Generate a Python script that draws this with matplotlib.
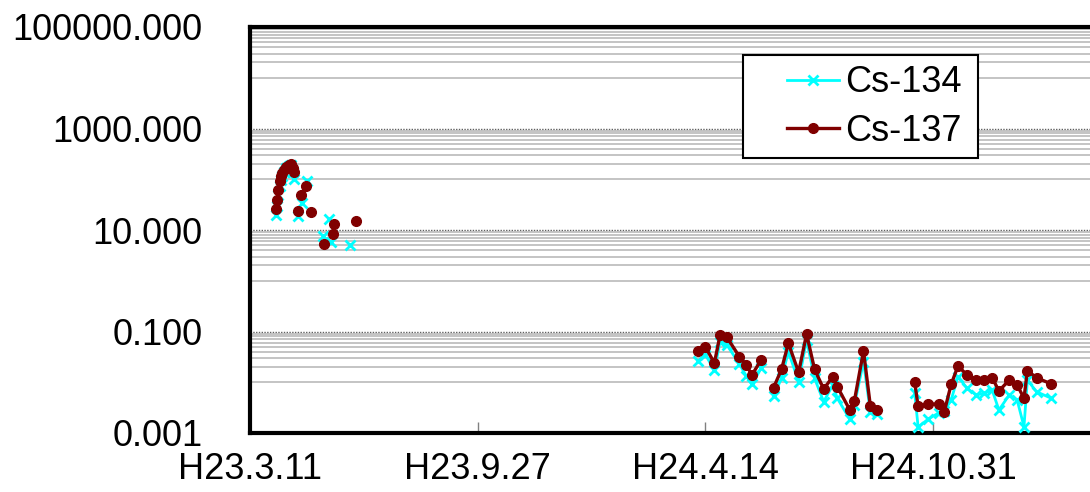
import numpy as np
import pandas as pd
import matplotlib
matplotlib.use("Agg")
import matplotlib.pyplot as plt
from matplotlib.patches import Rectangle

nan = np.nan

# Cs-134 (date, value) - nan entries break the line
dates_134 = [
    "2011-04-03", "2011-04-04", "2011-04-05", "2011-04-06", "2011-04-07", "2011-04-08",
    "2011-04-10", "2011-04-12", "2011-04-14", "2011-04-16", "2011-04-18", "2011-04-19",
    "2011-04-20", "2011-04-22", "2011-04-23", "2011-04-26", "2011-04-27", "2011-04-30",
    "2011-05-01", "2011-05-14", "2011-05-15", "2011-05-19", "2011-05-20", "2011-05-21",
    "2011-05-22", "2011-06-07", "2011-06-08",
    "2012-04-08", "2012-04-14", "2012-04-22", "2012-04-27", "2012-05-03", "2012-05-14",
    "2012-05-20", "2012-05-25", "2012-06-02", "2012-06-07", "2012-06-13", "2012-06-20",
    "2012-06-26", "2012-07-05", "2012-07-12", "2012-07-19", "2012-07-27", "2012-08-04",
    "2012-08-08", "2012-08-19", "2012-08-23", "2012-08-31", "2012-09-06", "2012-09-12",
    "2012-09-20",
    "2012-10-15", "2012-10-18", "2012-10-27", "2012-11-05", "2012-11-10", "2012-11-16",
    "2012-11-22", "2012-11-30", "2012-12-08", "2012-12-15", "2012-12-22", "2012-12-28",
    "2013-01-06", "2013-01-13", "2013-01-19", "2013-01-22", "2013-01-30", "2013-02-12",
]
cs134 = [
    19.8, 30, 48, 75, 98, 115,
    140, 165, 185, 190, 140, 101,
    nan, 18.6, nan, 33.6, nan, 90.3,
    nan, 7.45, nan, 16.7, nan, 5.80,
    nan, 4.95, nan,
    0.0266, 0.0352, 0.0172, 0.0630, 0.0542, 0.0229,
    0.0133, 0.00904, 0.0188, nan, 0.00536, 0.0120,
    0.0400, 0.01026, 0.0681, 0.0120, 0.00414, 0.00883,
    0.00483, 0.00186, 0.00356, 0.0254, 0.00263, 0.00237,
    nan,
    0.00605, 0.00131, 0.00189, 0.00248, 0.00271, 0.00447,
    0.01286, 0.00760, 0.00561, 0.00605, 0.00703, 0.00284,
    0.00561, 0.00447, 0.00133, 0.01106, 0.00651, 0.00483,
]

# Cs-137
dates_137 = [
    "2011-04-03", "2011-04-04", "2011-04-05", "2011-04-06", "2011-04-07", "2011-04-08",
    "2011-04-10", "2011-04-12", "2011-04-14", "2011-04-16", "2011-04-18", "2011-04-19",
    "2011-04-20", "2011-04-22", "2011-04-23", "2011-04-25", "2011-04-26", "2011-04-29",
    "2011-04-30", "2011-05-04", "2011-05-05", "2011-05-15", "2011-05-16", "2011-05-23",
    "2011-05-24", "2011-05-25", "2011-06-12", "2011-06-13",
    "2012-04-08", "2012-04-14", "2012-04-22", "2012-04-27", "2012-05-03", "2012-05-14",
    "2012-05-20", "2012-05-25", "2012-06-02", "2012-06-07", "2012-06-13", "2012-06-20",
    "2012-06-26", "2012-07-05", "2012-07-12", "2012-07-19", "2012-07-27", "2012-08-04",
    "2012-08-08", "2012-08-19", "2012-08-23", "2012-08-31", "2012-09-06", "2012-09-12",
    "2012-09-20",
    "2012-10-15", "2012-10-18", "2012-10-27", "2012-11-05", "2012-11-10", "2012-11-16",
    "2012-11-22", "2012-11-30", "2012-12-08", "2012-12-15", "2012-12-22", "2012-12-28",
    "2013-01-06", "2013-01-13", "2013-01-19", "2013-01-22", "2013-01-30", "2013-02-12",
]
cs137 = [
    25.9, 39, 61, 92, 116, 133,
    152, 174, 191, 200, 167, 139,
    nan, 24.0, nan, 48.9, nan, 73.6,
    nan, 22.9, nan, 5.30, nan, 8.34,
    13.1, nan, 15.0, nan,
    0.0413, 0.0501, 0.0239, 0.0853, 0.0769, 0.0318,
    0.0219, 0.0139, 0.0274, nan, 0.00782, 0.0180,
    0.0585, 0.0157, 0.0893, 0.0180, 0.00736, 0.01285,
    0.00816, 0.00284, 0.00428, 0.0413, 0.00345, 0.00284,
    nan,
    0.00997, 0.00333, 0.00372, 0.00372, 0.00263, 0.00904,
    0.0209, 0.0139, 0.01106, 0.01106, 0.0123, 0.00673,
    0.01106, 0.00883, 0.00483, 0.0169, 0.0123, 0.00925,
]

tick_dates = ["2011-03-11", "2011-09-27", "2012-04-14", "2012-10-31"]
tick_labels = ["H23.3.11", "H23.9.27", "H24.4.14", "H24.10.31"]
y_major = [0.001, 0.1, 10, 1000, 100000]

plt.rcParams["font.family"] = ["Liberation Sans", "DejaVu Sans"]
plt.rcParams["font.size"] = 26

fig = plt.figure(figsize=(10.9, 4.92), dpi=100)
ax = fig.add_axes([250 / 1090, 59 / 492, 1 - 250 / 1090, 406 / 492])

ax.plot(pd.to_datetime(dates_134), cs134, color="#00ffff", lw=2.0,
        marker="x", ms=7, mew=2, label="Cs-134", zorder=3)
ax.plot(pd.to_datetime(dates_137), cs137, color="#800000", lw=2.4,
        marker="o", ms=7, label="Cs-137", zorder=4)

ax.set_yscale("log")
ax.set_ylim(0.001, 100000)
ax.set_yticks(y_major)
ax.set_yticklabels([f"{v:.3f}" for v in y_major])
minor = []
for base in [0.01, 1, 100, 10000]:
    minor += [base * k for k in range(1, 10)]
ax.set_yticks(minor, minor=True)
ax.yaxis.set_minor_formatter(matplotlib.ticker.NullFormatter())
ax.tick_params(axis="y", which="both", length=0, pad=34)

ax.set_xlim(pd.Timestamp("2011-03-11"), pd.Timestamp("2013-03-18"))
ax.set_xticks(pd.to_datetime(tick_dates))
ax.set_xticklabels(tick_labels)
ax.tick_params(axis="x", direction="in", length=8, width=1, color="#808080", pad=14)

ax.grid(axis="y", which="minor", color="#b4b4b4", lw=1.1, ls="-")
ax.grid(axis="y", which="major", color="#606060", lw=1.0, ls=(0, (1, 1)))
ax.set_axisbelow(True)

for side in ["left", "bottom", "top"]:
    ax.spines[side].set_linewidth(3)
    ax.spines[side].set_color("black")
ax.spines["right"].set_visible(False)

# legend box (drawn separately: wide left margin like the original)
ax.add_patch(Rectangle((0.587, 0.677), 0.280, 0.254, transform=ax.transAxes,
                       facecolor="white", edgecolor="black", lw=1.5, zorder=5))
leg = ax.legend(loc="center left", bbox_to_anchor=(0.639, 0.803), borderaxespad=0,
                frameon=False, handlelength=1.45, handletextpad=0.17,
                labelspacing=0.37, borderpad=0)
leg.set_zorder(6)

fig.savefig("out.png", dpi=100)
